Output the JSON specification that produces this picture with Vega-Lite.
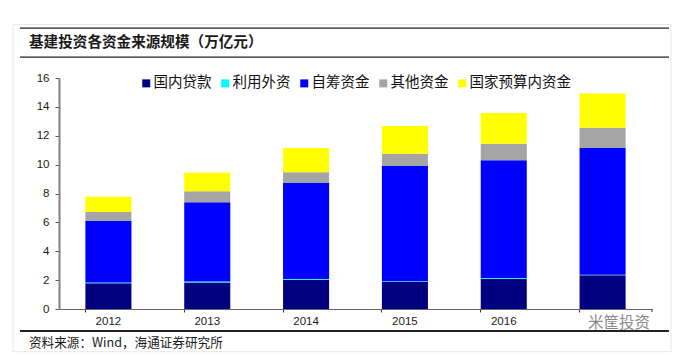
{
"$schema":"https://vega.github.io/schema/vega-lite/v6.json",
"width":593,"height":231,
"autosize":{"type":"none"},
"padding":{"left":59,"top":78,"right":27,"bottom":46},
"background":"#ffffff",
"config":{"view":{"stroke":null},"font":"Liberation Sans","axisY":{"tickCount":8,"labelOverlap":false,"labelFont":"Liberation Sans","labelFontSize":11.5,"labelColor":"#1a1a1a","labelPadding":6,"tickSize":4,"tickColor":"#555555","domainColor":"#808080","domainWidth":2,"grid":false}},
"layer":[
{"data":{"values":[{"x":-46,"x2":612,"y":19.7,"y2":-2.96}]},
 "mark":{"type":"rect","fillOpacity":0,"stroke":"#e8e8e8","strokeWidth":1},
 "encoding":{
  "x":{"field":"x","type":"quantitative","scale":{"domain":[0,593],"nice":false,"zero":false},"axis":null},
  "x2":{"field":"x2"},
  "y":{"field":"y","type":"quantitative","title":null,"scale":{"domain":[0,16],"nice":false}},
  "y2":{"field":"y2"}}},
{"data":{"values":[
 {"year":"2012","source":"国内贷款","rank":1,"value":1.78},
 {"year":"2012","source":"利用外资","rank":2,"value":0.05},
 {"year":"2012","source":"自筹资金","rank":3,"value":4.27},
 {"year":"2012","source":"其他资金","rank":4,"value":0.62},
 {"year":"2012","source":"国家预算内资金","rank":5,"value":1.05},
 {"year":"2013","source":"国内贷款","rank":1,"value":1.84},
 {"year":"2013","source":"利用外资","rank":2,"value":0.06},
 {"year":"2013","source":"自筹资金","rank":3,"value":5.5},
 {"year":"2013","source":"其他资金","rank":4,"value":0.75},
 {"year":"2013","source":"国家预算内资金","rank":5,"value":1.28},
 {"year":"2014","source":"国内贷款","rank":1,"value":2.02},
 {"year":"2014","source":"利用外资","rank":2,"value":0.05},
 {"year":"2014","source":"自筹资金","rank":3,"value":6.66},
 {"year":"2014","source":"其他资金","rank":4,"value":0.74},
 {"year":"2014","source":"国家预算内资金","rank":5,"value":1.69},
 {"year":"2015","source":"国内贷款","rank":1,"value":1.9},
 {"year":"2015","source":"利用外资","rank":2,"value":0.04},
 {"year":"2015","source":"自筹资金","rank":3,"value":7.96},
 {"year":"2015","source":"其他资金","rank":4,"value":0.85},
 {"year":"2015","source":"国家预算内资金","rank":5,"value":1.93},
 {"year":"2016","source":"国内贷款","rank":1,"value":2.1},
 {"year":"2016","source":"利用外资","rank":2,"value":0.04},
 {"year":"2016","source":"自筹资金","rank":3,"value":8.16},
 {"year":"2016","source":"其他资金","rank":4,"value":1.14},
 {"year":"2016","source":"国家预算内资金","rank":5,"value":2.14},
 {"year":"2017","source":"国内贷款","rank":1,"value":2.33},
 {"year":"2017","source":"利用外资","rank":2,"value":0.05},
 {"year":"2017","source":"自筹资金","rank":3,"value":8.77},
 {"year":"2017","source":"其他资金","rank":4,"value":1.4},
 {"year":"2017","source":"国家预算内资金","rank":5,"value":2.38}
 ]},
 "mark":{"type":"bar"},
 "encoding":{
  "x":{"field":"year","type":"nominal","title":null,
   "scale":{"paddingInner":0.534,"paddingOuter":0.267},
   "axis":{"bandPosition":0,"labelAngle":0,"labelExpr":"datum.value == '2017' ? '' : datum.value","labelFont":"Liberation Sans","labelFontSize":11.5,"labelColor":"#1a1a1a","labelPadding":3,"tickSize":3,"tickColor":"#333333","domainColor":"#666666","domainWidth":1,"grid":false}},
  "y":{"field":"value","type":"quantitative","stack":"zero","title":null,"scale":{"domain":[0,16],"nice":false}},
  "order":{"field":"rank","type":"quantitative"},
  "color":{"field":"source","type":"nominal",
   "scale":{"domain":["国内贷款","利用外资","自筹资金","其他资金","国家预算内资金"],"range":["#000080","#00ffff","#0000ff","#a5a5a5","#ffff00"]},
   "legend":{"title":null,"orient":"none","legendX":80,"legendY":-2,"direction":"horizontal","columns":5,"symbolType":"square","symbolSize":64,"symbolStrokeWidth":0,"labelFont":"Noto Sans CJK SC","labelFontSize":14.5,"labelColor":"#111111","labelLimit":200,"labelOffset":0,"columnPadding":6,"padding":0}}}},
{"data":{"values":[
 {"x":-39,"x2":610,"y":19.46,"w":1.2},
 {"x":-39,"x2":610,"y":17.45,"w":1.2},
 {"x":-39,"x2":610,"y":-1.52,"w":2}
 ]},
 "mark":{"type":"rule","color":"#222222"},
 "encoding":{
  "x":{"field":"x","type":"quantitative","scale":{"domain":[0,593],"nice":false,"zero":false},"axis":null},
  "x2":{"field":"x2"},
  "y":{"field":"y","type":"quantitative","title":null},
  "strokeWidth":{"field":"w","type":"quantitative","scale":null}}},
{"data":{"values":[{"x":593,"y":0,"y2":-0.21}]},
 "mark":{"type":"rule","color":"#333333"},
 "encoding":{
  "x":{"field":"x","type":"quantitative","scale":{"domain":[0,593],"nice":false,"zero":false},"axis":null},
  "y":{"field":"y","type":"quantitative","title":null},
  "y2":{"field":"y2"}}},
{"data":{"values":[{"x":-30,"y":18.44,"label":"基建投资各资金来源规模\uff08万亿元\uff09"}]},
 "mark":{"type":"text","align":"left","baseline":"middle","font":"Noto Sans CJK SC","fontSize":14.6,"fontWeight":"bold","color":"#1a1a1a"},
 "encoding":{
  "x":{"field":"x","type":"quantitative","scale":{"domain":[0,593],"nice":false,"zero":false},"axis":null},
  "y":{"field":"y","type":"quantitative","title":null},
  "text":{"field":"label"}}},
{"data":{"values":[{"x":-30,"y":-2.35,"label":"资料来源\uff1aWind\uff0c海通证券研究所"}]},
 "mark":{"type":"text","align":"left","baseline":"middle","font":"Noto Sans CJK SC","fontSize":12.6,"color":"#1a1a1a"},
 "encoding":{
  "x":{"field":"x","type":"quantitative","scale":{"domain":[0,593],"nice":false,"zero":false},"axis":null},
  "y":{"field":"y","type":"quantitative","title":null},
  "text":{"field":"label"}}},
{"data":{"values":[{"x":560,"y":-0.97,"label":"米筐投资"}]},
 "mark":{"type":"text","align":"center","baseline":"middle","font":"Noto Sans CJK SC","fontSize":15.5,"color":"#8a8a8a"},
 "encoding":{
  "x":{"field":"x","type":"quantitative","scale":{"domain":[0,593],"nice":false,"zero":false},"axis":null},
  "y":{"field":"y","type":"quantitative","title":null},
  "text":{"field":"label"}}}
],
"resolve":{"scale":{"x":"independent"},"axis":{"x":"independent"}}
}
